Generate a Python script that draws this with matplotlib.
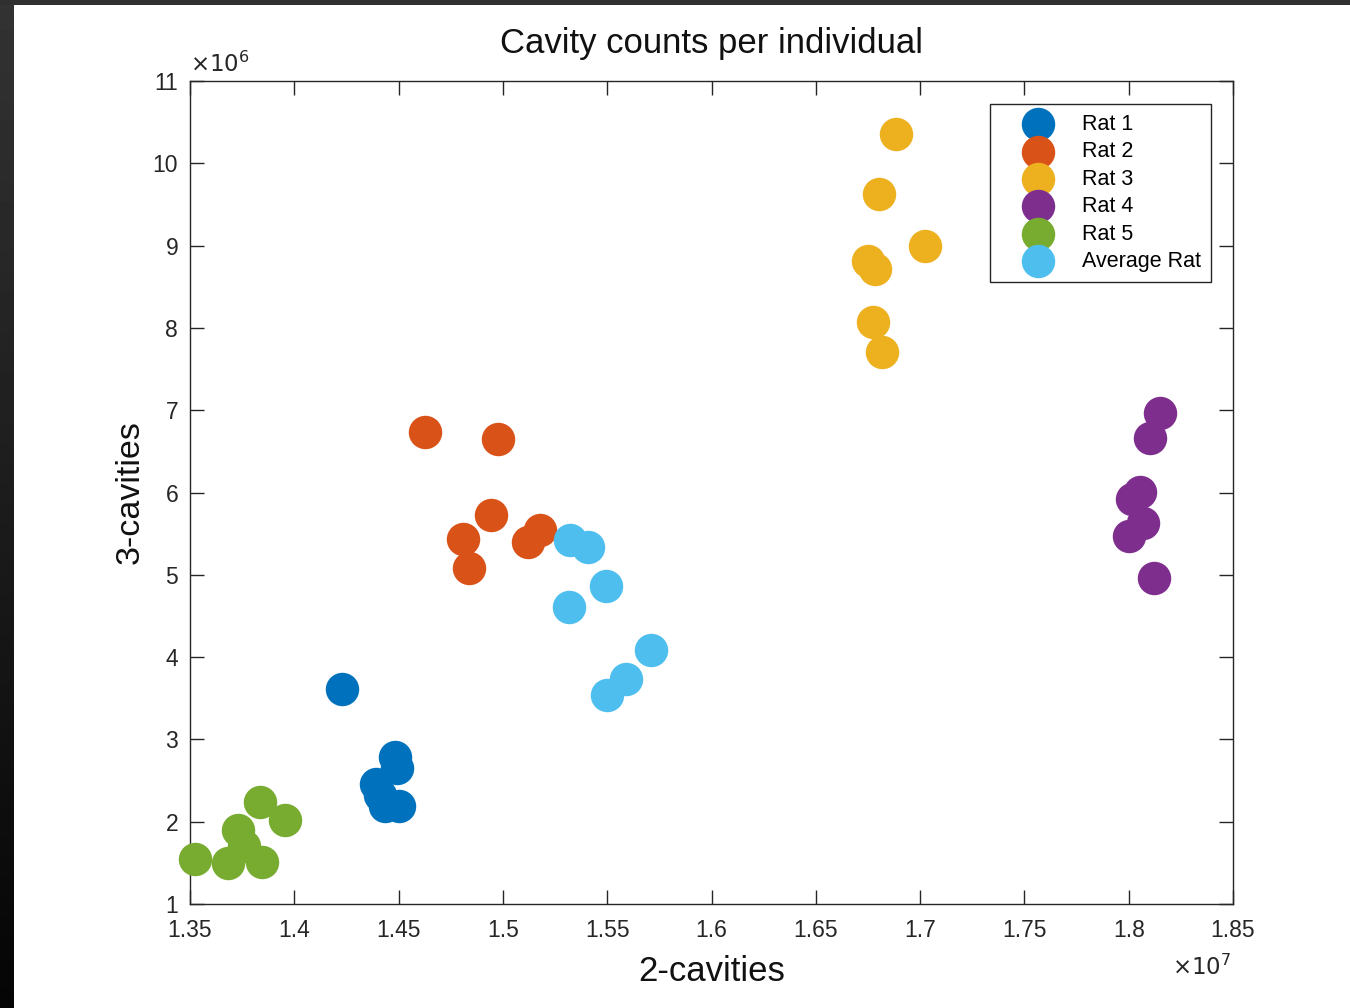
import numpy as np
import matplotlib.pyplot as plt
from matplotlib.ticker import FuncFormatter

plt.rcParams['font.family'] = ['Liberation Sans', 'DejaVu Sans']

# cavity counts (x: 2-cavities, y: 3-cavities)
rat1_x = [1.4229e7, 1.4483e7, 1.4492e7, 1.4392e7, 1.4411e7, 1.4435e7, 1.4502e7]
rat1_y = [3.616e6, 2.788e6, 2.655e6, 2.460e6, 2.326e6, 2.192e6, 2.192e6]
rat2_x = [1.4627e7, 1.4977e7, 1.4943e7, 1.4809e7, 1.4837e7, 1.5120e7, 1.5178e7]
rat2_y = [6.730e6, 6.645e6, 5.732e6, 5.440e6, 5.088e6, 5.404e6, 5.550e6]
rat3_x = [1.6884e7, 1.6803e7, 1.7023e7, 1.6750e7, 1.6784e7, 1.6774e7, 1.6817e7]
rat3_y = [10.355e6, 9.625e6, 8.993e6, 8.810e6, 8.713e6, 8.068e6, 7.703e6]
rat4_x = [1.8150e7, 1.8102e7, 1.8054e7, 1.8016e7, 1.8069e7, 1.8001e7, 1.8121e7]
rat4_y = [6.961e6, 6.657e6, 6.012e6, 5.915e6, 5.635e6, 5.477e6, 4.966e6]
rat5_x = [1.3524e7, 1.3682e7, 1.3845e7, 1.3730e7, 1.3759e7, 1.3836e7, 1.3955e7]
rat5_y = [1.547e6, 1.499e6, 1.511e6, 1.900e6, 1.706e6, 2.241e6, 2.022e6]
avg_x = [1.5322e7, 1.5408e7, 1.5494e7, 1.5317e7, 1.5710e7, 1.5590e7, 1.5499e7]
avg_y = [5.428e6, 5.343e6, 4.869e6, 4.613e6, 4.090e6, 3.737e6, 3.543e6]

labels = ['Rat 1', 'Rat 2', 'Rat 3', 'Rat 4', 'Rat 5', 'Average Rat']
colors = ['#0072BD', '#D95319', '#EDB120', '#7E2F8E', '#77AC30', '#4DBEEE']
xs = [rat1_x, rat2_x, rat3_x, rat4_x, rat5_x, avg_x]
ys = [rat1_y, rat2_y, rat3_y, rat4_y, rat5_y, avg_y]

fig = plt.figure(figsize=(13.5, 10.08), dpi=100)

# screenshot frame: dark strips on top and left
frame = fig.add_axes([0, 0, 14 / 1350, 1])
frame.imshow(np.linspace(0.2, 0.02, 100).reshape(-1, 1), cmap='gray', vmin=0, vmax=1,
             aspect='auto', extent=[0, 1, 0, 1])
frame.axis('off')
top = fig.add_axes([0, 1 - 5 / 1008, 1, 5 / 1008])
top.set_facecolor('#303030')
top.set_xticks([])
top.set_yticks([])
for s in top.spines.values():
    s.set_visible(False)

ax = fig.add_axes([190 / 1350, 104 / 1008, 1043 / 1350, 823 / 1008])
for x, y, c, lab in zip(xs, ys, colors, labels):
    ax.scatter(x, y, s=580, color=c, linewidths=0, label=lab, zorder=3, clip_on=False)

ax.set_xlim(1.35e7, 1.85e7)
ax.set_ylim(1e6, 11e6)
ax.set_xticks(np.arange(1.35e7, 1.851e7, 0.05e7))
ax.set_yticks(np.arange(1e6, 11.1e6, 1e6))
ax.xaxis.set_major_formatter(FuncFormatter(lambda v, p: f'{v / 1e7:g}'))
ax.yaxis.set_major_formatter(FuncFormatter(lambda v, p: f'{v / 1e6:g}'))
ax.tick_params(direction='in', length=10, width=1, top=True, right=True,
               labelsize=16.5, colors='#262626')
ax.tick_params(axis='x', pad=11)
ax.tick_params(axis='y', pad=8.5)
for s in ax.spines.values():
    s.set_color('#262626')
    s.set_linewidth(1)

ax.set_title('Cavity counts per individual', fontsize=25, color='#111111', pad=20)
ax.set_xlabel('2-cavities', fontsize=25, color='#111111', labelpad=9)
ax.set_ylabel('3-cavities', fontsize=24.5, color='#111111', labelpad=5)

ax.text(0.0, 1.005, r'$\times10^{6}$', transform=ax.transAxes, fontsize=16.5,
        color='#262626', ha='left', va='bottom')
ax.text(0.998, -0.062, r'$\times10^{7}$', transform=ax.transAxes, fontsize=16.5,
        color='#262626', ha='right', va='top')

leg = ax.legend(loc='upper right', bbox_to_anchor=(0.9785, 0.972), fontsize=15.5,
                frameon=True, fancybox=False, edgecolor='#262626', framealpha=1,
                labelspacing=0.3, handletextpad=0.26, borderpad=0.45,
                handlelength=3.58, borderaxespad=0)
leg.get_frame().set_linewidth(1)

plt.savefig('out.png', dpi=100)
